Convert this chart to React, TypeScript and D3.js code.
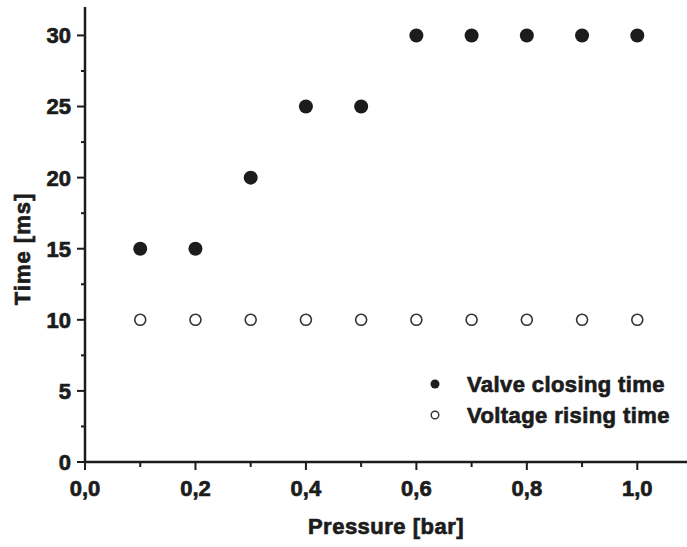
import React from 'react';
import { scaleLinear, range } from 'd3';

const pressure = [0.1, 0.2, 0.3, 0.4, 0.5, 0.6, 0.7, 0.8, 0.9, 1.0];
const valveClosing = [15, 15, 20, 25, 25, 30, 30, 30, 30, 30];
const voltageRising = [10, 10, 10, 10, 10, 10, 10, 10, 10, 10];
const xTicks = [0, 0.2, 0.4, 0.6, 0.8, 1.0];
const yTicks = [0, 5, 10, 15, 20, 25, 30];
const legendLabels = ['Valve closing time', 'Voltage rising time'];

const W = 687;
const H = 547;
const FONT = '"Liberation Sans", Arial, sans-serif';
const INK = '#1c1c1c';

// bold text with a thin outline so it looks as heavy as the scanned figure
const txt = { fontFamily: FONT, fontWeight: 'bold', fill: INK, stroke: INK, strokeWidth: 0.7 } as const;

const App = () => {
  const x = scaleLinear().domain([0, 1.09]).range([85, 687]);
  const y = scaleLinear().domain([0, 32]).range([462, 7]);

  const xMinor = range(0.1, 1.05, 0.2);
  const yMinor = range(2.5, 30, 5);

  return (
    <svg width={W} height={H} style={{ position: 'absolute', left: 0, top: 0, background: '#fff' }}>
      {/* axes */}
      <line x1={x(0)} x2={x(0)} y1={y(32)} y2={y(0) + 1} stroke={INK} strokeWidth={2.5} />
      <line x1={x(0) - 1} x2={W} y1={y(0)} y2={y(0)} stroke={INK} strokeWidth={2.5} />

      {/* y ticks */}
      {yTicks.map((t) => (
        <g key={'y' + t}>
          <line x1={x(0) - 8} x2={x(0)} y1={y(t)} y2={y(t)} stroke={INK} strokeWidth={2} />
          <text {...txt} x={71} y={y(t)} dy="0.36em" textAnchor="end" fontSize={22}>{t}</text>
        </g>
      ))}
      {yMinor.map((t) => (
        <line key={'ym' + t} x1={x(0) - 4} x2={x(0)} y1={y(t)} y2={y(t)} stroke={INK} strokeWidth={2} />
      ))}

      {/* x ticks */}
      {xTicks.map((t) => (
        <g key={'x' + t}>
          <line x1={x(t)} x2={x(t)} y1={y(0)} y2={y(0) + 8} stroke={INK} strokeWidth={2} />
          <text {...txt} x={x(t)} y={496} textAnchor="middle" fontSize={22}>
            {t.toFixed(1).replace('.', ',')}
          </text>
        </g>
      ))}
      {xMinor.map((t) => (
        <line key={'xm' + t} x1={x(t)} x2={x(t)} y1={y(0)} y2={y(0) + 5} stroke={INK} strokeWidth={2} />
      ))}

      {/* axis titles */}
      <text {...txt} x={(85 + W) / 2} y={534} textAnchor="middle" fontSize={22} letterSpacing={0.5}>
        Pressure [bar]
      </text>
      <text {...txt} transform="translate(30,249) rotate(-90)" textAnchor="middle" fontSize={22}
        letterSpacing={1}>Time [ms]</text>

      {/* data */}
      {pressure.map((p, i) => (
        <circle key={'v' + i} cx={x(p)} cy={y(valveClosing[i])} r={7} fill={INK} />
      ))}
      {pressure.map((p, i) => (
        <circle key={'r' + i} cx={x(p)} cy={y(voltageRising[i])} r={5.5} fill="#fff"
          stroke="#333" strokeWidth={1.6} />
      ))}

      {/* legend */}
      <circle cx={435} cy={384} r={4.5} fill={INK} />
      <circle cx={435} cy={415} r={3.8} fill="#fff" stroke="#333" strokeWidth={1.4} />
      {legendLabels.map((l, i) => (
        <text {...txt} key={l} x={467} y={392 + i * 31} fontSize={22} letterSpacing={0.4}>{l}</text>
      ))}
    </svg>
  );
};

export default App;
